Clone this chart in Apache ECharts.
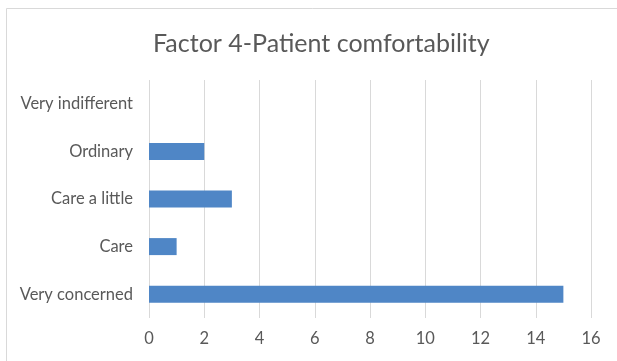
<!DOCTYPE html>
<html>
<head>
<meta charset="utf-8">
<script src="https://cdn.jsdelivr.net/npm/echarts@6/dist/echarts.min.js"></script>
<style>
  html, body { margin: 0; padding: 0; background: #fff; }
  #chart { width: 617px; height: 361px; }
</style>
</head>
<body>
<div id="chart"></div>
<script>
// Survey responses for factor 4 (bottom to top on the category axis)
const categories = ['Very concerned', 'Care', 'Care a little', 'Ordinary', 'Very indifferent'];
const counts = [15, 1, 3, 2, 0];
const chartTitle = 'Factor 4-Patient comfortability';

const chart = echarts.init(document.getElementById('chart'), null, { renderer: 'canvas' });
const textColor = '#595959';
const font = 'Lato, "Open Sans", sans-serif';

chart.setOption({
  animation: false,
  backgroundColor: '#ffffff',
  graphic: [{
    type: 'rect',
    shape: { x: 6.5, y: 8.5, width: 700, height: 400 },
    style: { fill: 'none', stroke: '#d9d9d9', lineWidth: 1 },
    silent: true
  }],
  title: {
    text: chartTitle,
    left: 148,
    top: 26,
    textStyle: { color: textColor, fontFamily: font, fontSize: 25, fontWeight: 'normal' }
  },
  grid: { left: 149, right: 26, top: 80, bottom: 43, containLabel: false },
  xAxis: {
    type: 'value',
    min: 0,
    max: 16,
    interval: 2,
    axisLine: { show: false },
    axisTick: { show: false },
    axisLabel: { color: textColor, fontFamily: font, fontSize: 16.5, margin: 12 },
    splitLine: { show: true, lineStyle: { color: '#d9d9d9', width: 1 } }
  },
  yAxis: {
    type: 'category',
    data: categories,
    axisLine: { show: false },
    axisTick: { show: false },
    axisLabel: { color: textColor, fontFamily: font, fontSize: 16.5, margin: 16 },
    splitLine: { show: false }
  },
  series: [{
    type: 'bar',
    data: counts,
    barWidth: 17,
    itemStyle: { color: '#4f86c6' }
  }]
});
</script>
</body>
</html>
